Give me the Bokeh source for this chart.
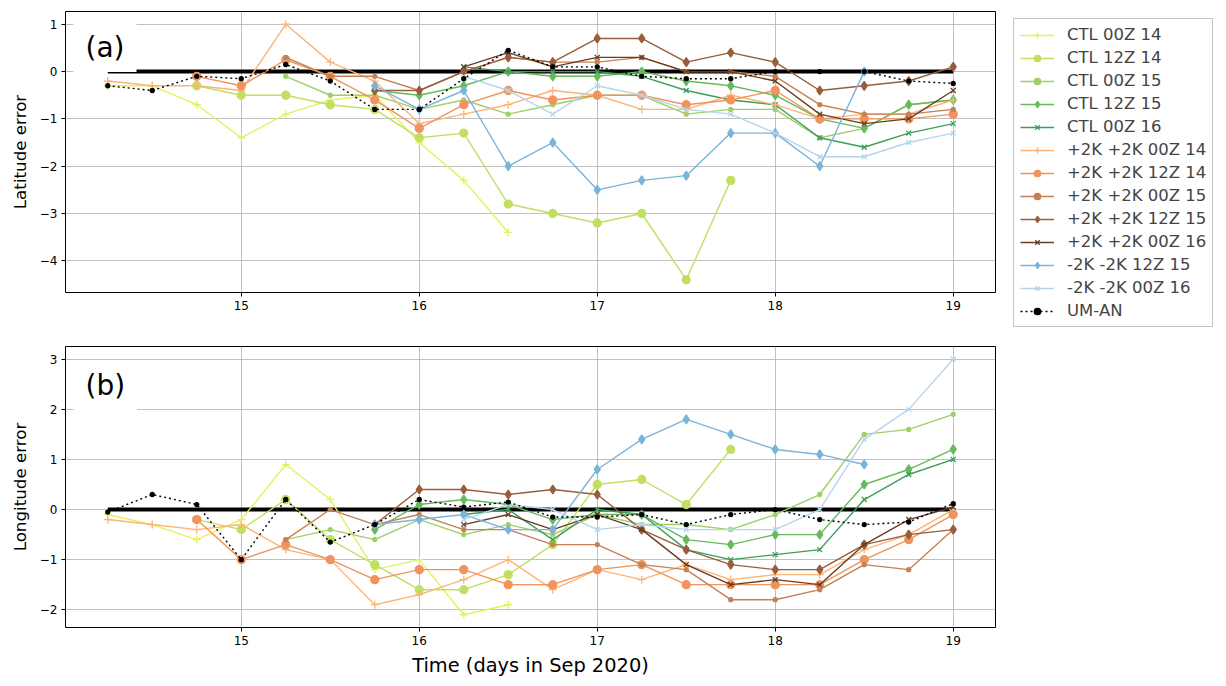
from bokeh.plotting import figure
from bokeh.models import Range1d, FixedTicker, Legend, LegendItem, Label
from bokeh.layouts import column
from bokeh.embed import file_html
from bokeh.resources import INLINE

N = None
times = [14.25, 14.5, 14.75, 15.0, 15.25, 15.5, 15.75, 16.0, 16.25, 16.5,
         16.75, 17.0, 17.25, 17.5, 17.75, 18.0, 18.25, 18.5, 18.75, 19.0]

series_names = ["CTL 00Z 14", "CTL 12Z 14", "CTL 00Z 15", "CTL 12Z 15", "CTL 00Z 16",
                "+2K +2K 00Z 14", "+2K +2K 12Z 14", "+2K +2K 00Z 15", "+2K +2K 12Z 15",
                "+2K +2K 00Z 16", "-2K -2K 12Z 15", "-2K -2K 00Z 16", "UM-AN"]

# Latitude error (panel a)
lat_ctl_00z14 = [-0.3, -0.3, -0.7, -1.4, -0.9, -0.6, -0.5, -1.5, -2.3, -3.4, N, N, N, N, N, N, N, N, N, N]
lat_ctl_12z14 = [N, N, -0.3, -0.5, -0.5, -0.7, -0.8, -1.4, -1.3, -2.8, -3.0, -3.2, -3.0, -4.4, -2.3, N, N, N, N, N]
lat_ctl_00z15 = [N, N, N, N, -0.1, -0.5, -0.5, -0.8, -0.6, -0.9, -0.7, -0.5, -0.5, -0.9, -0.8, -0.8, -1.4, -1.2, -0.7, -0.6]
lat_ctl_12z15 = [N, N, N, N, N, N, -0.4, -0.5, -0.3, 0.0, -0.1, -0.1, 0.0, -0.2, -0.3, -0.5, -1.0, -1.2, -0.7, -0.6]
lat_ctl_00z16 = [N, N, N, N, N, N, N, N, 0.1, 0.0, 0.0, 0.0, -0.1, -0.4, -0.6, -0.7, -1.4, -1.6, -1.3, -1.1]
lat_p2k_00z14 = [-0.2, -0.3, -0.3, -0.4, 1.0, 0.2, -0.2, -1.1, -0.9, -0.7, -0.4, -0.5, -0.8, -0.8, -0.5, -0.7, -1.0, -0.9, -0.9, -0.6]
lat_p2k_12z14 = [N, N, -0.1, -0.3, 0.25, -0.1, -0.6, -1.2, -0.7, -0.4, -0.6, -0.5, -0.5, -0.7, -0.6, -0.4, -1.0, -1.0, -1.0, -0.9]
lat_p2k_00z15 = [N, N, N, N, 0.3, -0.1, -0.1, -0.4, 0.0, 0.3, 0.2, 0.2, 0.3, 0.0, 0.0, -0.1, -0.7, -0.9, -0.9, -0.8]
lat_p2k_12z15 = [N, N, N, N, N, N, -0.4, -0.4, 0.0, 0.3, 0.2, 0.7, 0.7, 0.2, 0.4, 0.2, -0.4, -0.3, -0.2, 0.1]
lat_p2k_00z16 = [N, N, N, N, N, N, N, N, 0.1, 0.4, 0.1, 0.3, 0.3, 0.0, 0.0, -0.2, -0.9, -1.1, -1.0, -0.4]
lat_m2k_12z15 = [N, N, N, N, N, N, -0.3, -0.8, -0.4, -2.0, -1.5, -2.5, -2.3, -2.2, -1.3, -1.3, -2.0, 0.0, N, N]
lat_m2k_00z16 = [N, N, N, N, N, N, N, N, -0.1, -0.4, -0.9, -0.3, -0.5, -0.8, -0.9, -1.3, -1.8, -1.8, -1.5, -1.3]
lat_um_an = [-0.3, -0.4, -0.1, -0.15, 0.15, -0.2, -0.8, -0.8, -0.15, 0.45, 0.1, 0.1, -0.1, -0.15, -0.15, 0.0, 0.0, 0.0, -0.2, -0.25]

# Longitude error (panel b)
lon_ctl_00z14 = [-0.1, -0.3, -0.6, -0.2, 0.9, 0.2, -1.2, -1.0, -2.1, -1.9, N, N, N, N, N, N, N, N, N, N]
lon_ctl_12z14 = [N, N, -0.2, -0.4, 0.2, -0.6, -1.1, -1.6, -1.6, -1.3, -0.7, 0.5, 0.6, 0.1, 1.2, N, N, N, N, N]
lon_ctl_00z15 = [N, N, N, N, -0.6, -0.4, -0.6, -0.2, -0.5, -0.3, -0.5, -0.1, -0.3, -0.3, -0.4, -0.1, 0.3, 1.5, 1.6, 1.9]
lon_ctl_12z15 = [N, N, N, N, N, N, -0.4, 0.1, 0.2, 0.1, -0.2, -0.1, -0.1, -0.6, -0.7, -0.5, -0.5, 0.5, 0.8, 1.2]
lon_ctl_00z16 = [N, N, N, N, N, N, N, N, -0.1, 0.0, -0.6, 0.0, -0.1, -0.8, -1.0, -0.9, -0.8, 0.2, 0.7, 1.0]
lon_p2k_00z14 = [-0.2, -0.3, -0.4, -0.3, -0.8, -1.0, -1.9, -1.7, -1.4, -1.0, -1.6, -1.2, -1.4, -1.1, -1.4, -1.3, -1.3, -0.8, -0.5, 0.0]
lon_p2k_12z14 = [N, N, -0.2, -1.0, -0.7, -1.0, -1.4, -1.2, -1.2, -1.5, -1.5, -1.2, -1.1, -1.5, -1.5, -1.5, -1.5, -1.0, -0.6, -0.1]
lon_p2k_00z15 = [N, N, N, N, -0.6, 0.0, -0.3, -0.1, -0.4, -0.4, -0.7, -0.7, -1.1, -1.2, -1.8, -1.8, -1.6, -1.1, -1.2, -0.4]
lon_p2k_12z15 = [N, N, N, N, N, N, -0.3, 0.4, 0.4, 0.3, 0.4, 0.3, -0.4, -0.8, -1.1, -1.2, -1.2, -0.7, -0.5, -0.4]
lon_p2k_00z16 = [N, N, N, N, N, N, N, N, -0.3, -0.1, -0.4, -0.1, -0.4, -1.1, -1.5, -1.4, -1.5, -0.7, -0.2, 0.05]
lon_m2k_12z15 = [N, N, N, N, N, N, -0.3, -0.2, -0.1, -0.4, -0.4, 0.8, 1.4, 1.8, 1.5, 1.2, 1.1, 0.9, N, N]
lon_m2k_00z16 = [N, N, N, N, N, N, N, N, -0.2, 0.1, 0.0, -0.4, -0.3, -0.4, -0.4, -0.4, 0.0, 1.4, 2.0, 3.0]
lon_um_an = [-0.05, 0.3, 0.1, -1.0, 0.2, -0.65, -0.3, 0.2, 0.05, 0.15, -0.15, -0.15, -0.1, -0.3, -0.1, 0.0, -0.2, -0.3, -0.25, 0.12]

lat_series = [lat_ctl_00z14, lat_ctl_12z14, lat_ctl_00z15, lat_ctl_12z15, lat_ctl_00z16,
              lat_p2k_00z14, lat_p2k_12z14, lat_p2k_00z15, lat_p2k_12z15, lat_p2k_00z16,
              lat_m2k_12z15, lat_m2k_00z16, lat_um_an]
lon_series = [lon_ctl_00z14, lon_ctl_12z14, lon_ctl_00z15, lon_ctl_12z15, lon_ctl_00z16,
              lon_p2k_00z14, lon_p2k_12z14, lon_p2k_00z15, lon_p2k_12z15, lon_p2k_00z16,
              lon_m2k_12z15, lon_m2k_00z16, lon_um_an]

colors = ["#e2f25c", "#c1e063", "#9fcf69", "#67ba5c", "#3c9e5a",
          "#fdb474", "#f0945d", "#c58053", "#9a5d3b", "#6a3d22",
          "#7ab5d9", "#b6d5ec", "black"]
markers = ["cross", "circle", "circle", "diamond", "x",
           "cross", "circle", "circle", "diamond", "x",
           "diamond", "x", "circle"]
marker_sizes = [8, 8, 4, 9, 7, 8, 8, 4, 9, 7, 9, 7, 4]

x_ticks = [15, 16, 17, 18, 19]
lat_ticks = [-4, -3, -2, -1, 0, 1]
lat_tick_labels = ["\u22124", "\u22123", "\u22122", "\u22121", "0", "1"]
lon_ticks = [-2, -1, 0, 1, 2, 3]
lon_tick_labels = ["\u22122", "\u22121", "0", "1", "2", "3"]

FONT = "DejaVu Sans"


def make_fig(ylo, yhi, yticks, ylabels, ytitle, series, panel_text, panel_y,
             top, bottom, right, xtitle=None):
    p = figure(frame_width=930, frame_height=281,
               x_range=Range1d(14.0125, 19.2375), y_range=Range1d(ylo, yhi),
               output_backend="svg", toolbar_location=None,
               min_border_left=65, min_border_right=right,
               min_border_top=top, min_border_bottom=bottom)
    p.background_fill_color = "white"
    p.outline_line_color = "black"
    p.outline_line_width = 1
    p.outline_line_alpha = 1
    p.xaxis.ticker = FixedTicker(ticks=x_ticks)
    p.yaxis.ticker = FixedTicker(ticks=yticks)
    p.yaxis.major_label_overrides = {t: l for t, l in zip(yticks, ylabels)}
    for ax in (p.xaxis[0], p.yaxis[0]):
        ax.axis_line_color = None
        ax.major_tick_line_color = "black"
        ax.major_tick_out = 4
        ax.major_tick_in = 0
        ax.minor_tick_line_color = None
        ax.major_label_text_font = FONT
        ax.major_label_text_font_size = "12px"
        ax.major_label_text_color = "black"
        ax.major_label_standoff = 4
        ax.axis_label_text_font = FONT
        ax.axis_label_text_font_style = "normal"
        ax.axis_label_text_color = "black"
    p.yaxis.axis_label = ytitle
    p.yaxis.axis_label_text_font_size = "16.7px"
    p.yaxis.axis_label_standoff = 7
    if xtitle:
        p.xaxis.axis_label = xtitle
        p.xaxis.axis_label_text_font_size = "19.4px"
        p.xaxis.axis_label_standoff = 6
    p.xgrid.grid_line_color = "#b0b0b0"
    p.ygrid.grid_line_color = "#b0b0b0"
    p.xgrid.grid_line_width = 0.8
    p.ygrid.grid_line_width = 0.8

    # zero reference line
    p.line([times[0], times[-1]], [0, 0], line_color="black", line_width=4)

    items = []
    for name, vals, col, mk, ms in zip(series_names, series, colors, markers, marker_sizes):
        xs = [t for t, v in zip(times, vals) if v is not None]
        ys = [v for v in vals if v is not None]
        if name == "UM-AN":
            lr = p.line(xs, ys, line_color=col, line_width=1.4, line_dash="2 3")
        else:
            lr = p.line(xs, ys, line_color=col, line_width=1.4)
        sr = p.scatter(xs, ys, marker=mk, size=ms, line_color=col, fill_color=col,
                       line_width=1.3)
        items.append(LegendItem(label=name, renderers=[lr, sr]))

    lab = Label(x=14.0575, y=panel_y, text=panel_text, text_font=FONT,
                text_font_size="28px", text_baseline="middle", text_align="left",
                text_color="black",
                background_fill_color="white", padding=(12, 8))
    p.add_layout(lab)
    return p, items


p1, items = make_fig(-4.67, 1.27, lat_ticks, lat_tick_labels, "Latitude error",
                     lat_series, "(a)", 0.508, 11, 38, 0)
legend = Legend(items=items, location=(18, -35))
legend.label_text_font = FONT
legend.label_text_font_size = "16.5px"
legend.label_height = 16
legend.glyph_height = 16
legend.glyph_width = 34
legend.label_standoff = 13
legend.spacing = 4
legend.padding = 6
legend.margin = 12
legend.border_line_color = "#c4c4c4"
legend.border_line_width = 1
legend.border_line_alpha = 1
legend.background_fill_color = "white"
legend.background_fill_alpha = 1
p1.add_layout(legend, "right")

p2, _ = make_fig(-2.355, 3.255, lon_ticks, lon_tick_labels, "Longitude error",
                 lon_series, "(b)", 2.47, 16, 50, 222, xtitle="Time (days in Sep 2020)")

layout = column(p1, p2)
open("out.html", "w").write(file_html(layout, INLINE))
